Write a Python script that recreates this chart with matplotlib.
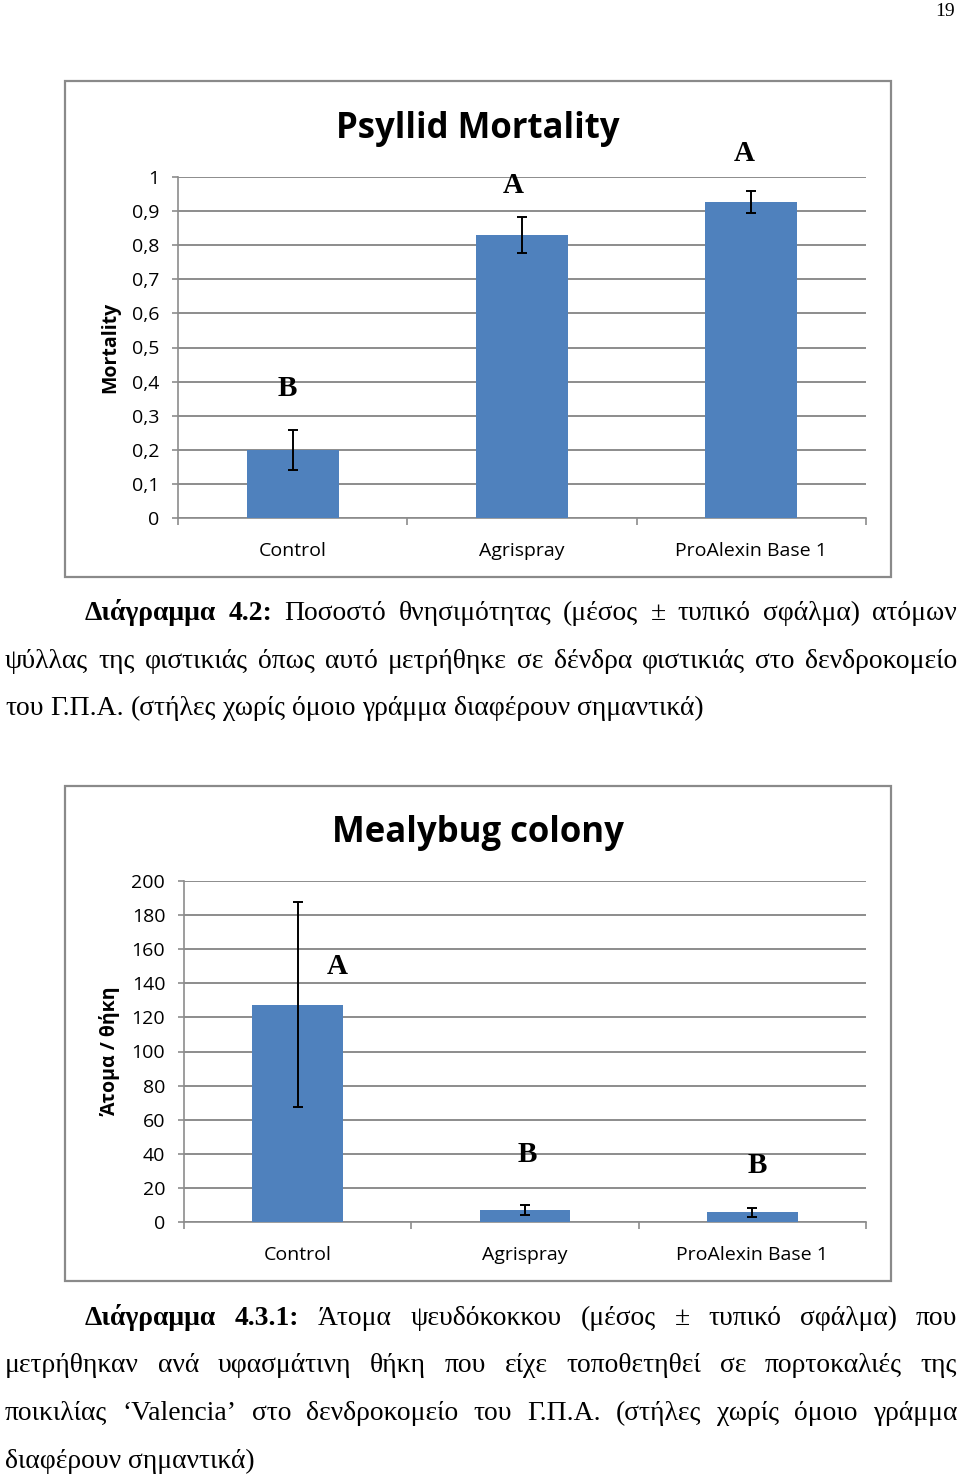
import matplotlib
matplotlib.use("Agg")
import matplotlib.pyplot as plt
from matplotlib.patches import Rectangle
import numpy as np

# ---------------- data ----------------
categories = ["Control", "Agrispray", "ProAlexin Base 1"]

mortality_mean = [0.20, 0.83, 0.927]
mortality_err = [0.058, 0.052, 0.032]
mortality_letters = ["B", "A", "A"]
mortality_ticks = [0, 0.1, 0.2, 0.3, 0.4, 0.5, 0.6, 0.7, 0.8, 0.9, 1.0]
mortality_ticklabels = ["0", "0,1", "0,2", "0,3", "0,4", "0,5", "0,6", "0,7", "0,8", "0,9", "1"]
mortality_letter_y = [0.381, 0.974, 1.070]
mortality_letter_dx = [-0.025, -0.04, -0.03]

mealybug_mean = [127.5, 7.0, 5.7]
mealybug_err = [60.3, 2.9, 2.8]
mealybug_letters = ["A", "B", "B"]
mealybug_ticks = [0, 20, 40, 60, 80, 100, 120, 140, 160, 180, 200]
mealybug_ticklabels = [str(t) for t in mealybug_ticks]
mealybug_letter_y = [150, 39.3, 33.4]
mealybug_letter_dx = [0.176, 0.01, 0.02]

caption1_bold = "Διάγραμμα 4.2:"
caption1_lines = [
    "Ποσοστό θνησιμότητας (μέσος ± τυπικό σφάλμα) ατόμων",
    "ψύλλας της φιστικιάς όπως αυτό μετρήθηκε σε δένδρα φιστικιάς στο δενδροκομείο",
    "του Γ.Π.Α. (στήλες χωρίς όμοιο γράμμα διαφέρουν σημαντικά)",
]
caption2_bold = "Διάγραμμα 4.3.1:"
caption2_lines = [
    "Άτομα ψευδόκοκκου (μέσος ± τυπικό σφάλμα) που",
    "μετρήθηκαν ανά υφασμάτινη θήκη που είχε τοποθετηθεί σε πορτοκαλιές της",
    "ποικιλίας ‘Valencia’ στο δενδροκομείο του Γ.Π.Α. (στήλες χωρίς όμοιο γράμμα",
    "διαφέρουν σημαντικά)",
]

# ---------------- figure ----------------
W, H = 960, 1475
DPI = 100
fig = plt.figure(figsize=(W / DPI, H / DPI), dpi=DPI)
fig.patch.set_facecolor("white")

SANS = ["Open Sans", "DejaVu Sans"]
SERIF = ["Liberation Serif", "DejaVu Serif"]
BAR = "#4F81BD"
GRID = "#8C8C8C"


def fx(px):
    return px / W


def fy(py):
    return 1 - py / H


def frame(x0, y0, x1, y1):
    r = Rectangle((fx(x0), fy(y1)), fx(x1) - fx(x0), fy(y0) - fy(y1),
                  transform=fig.transFigure, fill=False, edgecolor="#8A8A8A", lw=1.6)
    fig.add_artist(r)


def chart(box, plot, means, errs, letters, ly, ldx, ticks, tlabels, ylabel, title,
          title_y, ylabel_x, ymax):
    frame(*box)
    x0, y0, x1, y1 = plot
    ax = fig.add_axes([fx(x0), fy(y1), fx(x1) - fx(x0), fy(y0) - fy(y1)])
    x = np.arange(len(categories))
    ax.bar(x, means, width=0.4, color=BAR, zorder=3)
    ax.errorbar(x, means, yerr=errs, fmt="none", ecolor="black", elinewidth=1.4,
                capsize=3.6, capthick=1.4, zorder=4)
    ax.set_xlim(-0.5, len(categories) - 0.5)
    ax.set_ylim(0, ymax)
    ax.set_yticks(ticks)
    ax.set_yticklabels(tlabels, fontfamily=SANS, fontsize=14)
    ax.set_xticks(x)
    ax.set_xticklabels(categories, fontfamily=SANS, fontsize=14)
    ax.tick_params(axis="x", length=0, pad=17)
    ax.set_xticks(np.arange(-0.5, len(categories)), minor=True)
    ax.tick_params(axis="x", which="minor", length=5, width=1.2, color=GRID, direction="out")
    ax.tick_params(axis="y", length=4.5, width=1.2, color=GRID, pad=9)
    ax.yaxis.grid(True, color=GRID, lw=1.4, zorder=0)
    ax.set_axisbelow(True)
    for s in ["top", "right"]:
        ax.spines[s].set_visible(False)
    ax.spines["left"].set_color(GRID)
    ax.spines["bottom"].set_color(GRID)
    ax.spines["left"].set_linewidth(1.2)
    ax.spines["bottom"].set_linewidth(1.2)
    for i, (l, yy, dx) in enumerate(zip(letters, ly, ldx)):
        ax.text(i + dx, yy, l, ha="center", va="center", fontfamily=SERIF,
                fontweight="bold", fontsize=21, clip_on=False, zorder=5)
    fig.text(fx((box[0] + box[2]) / 2), fy(title_y), title, ha="center", va="center",
             fontfamily=SANS, fontweight="bold", fontsize=25)
    fig.text(fx(ylabel_x), fy((y0 + y1) / 2), ylabel, rotation=90, ha="center", va="center",
             fontfamily=SANS, fontweight="bold", fontsize=14)
    return ax


chart((65, 81, 891, 577), (178, 177, 866, 518), mortality_mean, mortality_err,
      mortality_letters, mortality_letter_y, mortality_letter_dx, mortality_ticks,
      mortality_ticklabels, "Mortality", "Psyllid Mortality", 129, 110, 1.0)
chart((65, 786, 891, 1281), (184, 881, 866, 1222), mealybug_mean, mealybug_err,
      mealybug_letters, mealybug_letter_y, mealybug_letter_dx, mealybug_ticks,
      mealybug_ticklabels, "Άτομα / θήκη", "Mealybug colony", 833, 110, 200)

# page number
fig.text(fx(955), fy(12), "19", ha="right", va="center", fontfamily=SERIF, fontsize=14)

# ---------------- captions (justified) ----------------
CAP_FS = 19.9
renderer = fig.canvas.get_renderer()


def text_width(s, bold=False):
    t = fig.text(0, 0, s, fontfamily=SERIF, fontsize=CAP_FS,
                 fontweight="bold" if bold else "normal")
    w = t.get_window_extent(renderer).width
    t.remove()
    return w


def place_line(words, x_left, x_right, baseline, justify):
    widths = [text_width(w, b) for w, b in words]
    space = text_width("a a") - text_width("aa")
    if justify and len(words) > 1:
        gap = (x_right - x_left - sum(widths)) / (len(words) - 1)
    else:
        gap = space
    x = x_left
    for (w, b), wd in zip(words, widths):
        fig.text(fx(x), fy(baseline), w, ha="left", va="baseline", fontfamily=SERIF,
                 fontsize=CAP_FS, fontweight="bold" if b else "normal")
        x += wd + gap


def caption(bold, lines, y_first, step):
    for i, line in enumerate(lines):
        words = [(w, False) for w in line.split(" ")]
        if i == 0:
            words = [(w, True) for w in bold.split(" ")] + words
            x_left = 85
        else:
            x_left = 5
        justify = i < len(lines) - 1
        place_line(words, x_left, 957, y_first + i * step, justify)


caption(caption1_bold, caption1_lines, 620, 47.5)
caption(caption2_bold, caption2_lines, 1325, 47.5)

fig.savefig("out.png", dpi=DPI, facecolor="white")
